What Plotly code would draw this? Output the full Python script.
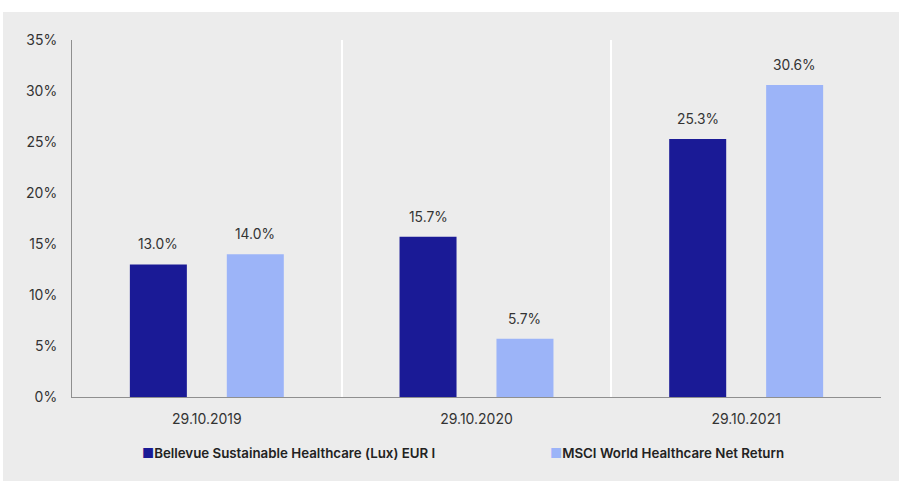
import plotly.graph_objects as go

categories = ["29.10.2019", "29.10.2020", "29.10.2021"]
series_names = ["Bellevue Sustainable Healthcare (Lux) EUR I",
                "MSCI World Healthcare Net Return"]
fund_values = [13.0, 15.7, 25.3]
index_values = [14.0, 5.7, 30.6]
y_ticks = [0, 5, 10, 15, 20, 25, 30, 35]
y_tick_labels = [f"{v}%" for v in y_ticks]

colors = ["#1a1a96", "#9cb4f8"]
FONT = "Inter, 'Noto Sans', 'DejaVu Sans', sans-serif"
W, H = 899, 481
ML, MR, MT, MB = 72, 18, 40, 84
PW = W - ML - MR
PH = H - MT - MB
BARGAP = 0.281
BARGROUPGAP = 0.412

fig = go.Figure()
all_values = [fund_values, index_values]
for j, (name, vals) in enumerate(zip(series_names, all_values)):
    fig.add_trace(go.Bar(x=categories, y=vals, name=name, marker_color=colors[j],
                         marker_line_width=0, showlegend=False,
                         hoverinfo="x+y"))
    # legend entries (square drawn as text glyph, close to label)
    fig.add_trace(go.Scatter(x=[None], y=[None], mode="markers",
                             marker=dict(color="rgba(0,0,0,0)", size=1),
                             name=f'<span style="color:{colors[j]}">■</span>{name}',
                             legend="legend" if j == 0 else "legend2",
                             showlegend=True, hoverinfo="skip"))

# value labels above bars
cat_px = PW / len(categories)
slot = cat_px * (1 - BARGAP) / 2
annotations = []
for j, vals in enumerate(all_values):
    shift = (j - 0.5) * slot
    for c, v in zip(categories, vals):
        annotations.append(dict(x=c, y=v, xref="x", yref="y", text=f"{v:.1f}%",
                                showarrow=False, xshift=shift, yshift=10,
                                yanchor="bottom",
                                font=dict(family=FONT, size=13.8, color="#333333")))

def px_to_paper_x(px):
    return (px - ML) / PW

def px_to_paper_y(py):
    return (H - MB - py) / PH

fig.add_shape(type="rect", xref="paper", yref="paper",
              x0=px_to_paper_x(3), x1=px_to_paper_x(899),
              y0=px_to_paper_y(481), y1=px_to_paper_y(12),
              fillcolor="#ececec", line_width=0, layer="below")

legend_common = dict(orientation="h", yanchor="middle", xanchor="left",
                     y=px_to_paper_y(453), bgcolor="rgba(0,0,0,0)",
                     borderwidth=0, itemwidth=30,
                     font=dict(family=FONT, size=13.3, color="#222222", weight=600))

fig.update_layout(
    width=W, height=H, autosize=False,
    margin=dict(l=ML, r=MR, t=MT, b=MB, pad=0),
    paper_bgcolor="white", plot_bgcolor="rgba(0,0,0,0)",
    barmode="group", bargap=BARGAP, bargroupgap=BARGROUPGAP,
    font=dict(family=FONT, size=14, color="#333333"),
    annotations=annotations,
    legend=dict(x=px_to_paper_x(102), **legend_common),
    legend2=dict(x=px_to_paper_x(510), **legend_common),
    xaxis=dict(type="category", showline=True, linecolor="#8f8f8f", linewidth=1,
               showgrid=True, gridcolor="white", gridwidth=2, tickson="boundaries",
               ticks="", ticklabelstandoff=9, zeroline=False,
               tickfont=dict(family=FONT, size=14, color="#333333")),
    yaxis=dict(range=[0, 35], tickvals=y_ticks, ticktext=y_tick_labels,
               showline=True, linecolor="#8f8f8f", linewidth=1, showgrid=False,
               zeroline=False, ticks="", ticklabelstandoff=11,
               tickfont=dict(family=FONT, size=14, color="#333333")),
)

fig.write_html("out.html", config={"displayModeBar": False},
               post_script="document.body.style.margin='0px';")
